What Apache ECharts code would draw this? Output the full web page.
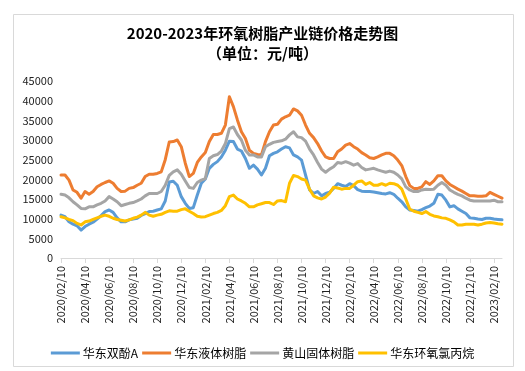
<!DOCTYPE html>
<html>
<head>
<meta charset="utf-8">
<script src="https://cdn.jsdelivr.net/npm/echarts@6/dist/echarts.min.js"></script>
<style>
html,body{margin:0;padding:0;background:#fff;}
#chart{width:525px;height:371px;}
</style>
</head>
<body>
<div id="chart"></div>
<script>
// Category dates: three points per month (10th, 20th, month end), starting 2020/02/10
const categories = (function () {
  const out = [];
  for (let y = 2020; y <= 2023; y++) {
    for (let m = 1; m <= 12; m++) {
      if (y === 2020 && m < 2) continue;
      const mm = (m < 10 ? '0' : '') + m;
      const endDay = m === 2 ? '28' : '30';
      out.push(y + '/' + mm + '/10', y + '/' + mm + '/20', y + '/' + mm + '/' + endDay);
      if (y === 2023 && m === 2) return out;
    }
  }
  return out;
})();

const seriesNames = ['华东双酚A', '华东液体树脂', '黄山固体树脂', '华东环氧氯丙烷'];
const yTicks = [0, 5000, 10000, 15000, 20000, 25000, 30000, 35000, 40000, 45000];

const bisphenolA = [
  10900, 10500, 9200, 8600, 8200, 7100, 8000, 8600, 9100, 9900,
  10800, 11800, 12200, 11600, 10200, 9200, 9200, 9700, 9900, 10100,
  10800, 11300, 11800, 11900, 12200, 12500, 14500, 19300, 19500, 18500,
  15600, 13900, 12600, 12800, 16000, 19000, 20100, 22800, 23800, 24500,
  25700, 27400, 29700, 29600, 27700, 27200, 25300, 22800, 23600, 22600,
  21100, 22800, 26000, 26600, 27000, 27700, 28300, 28000, 26200, 25700,
  24900, 21100, 17300, 16400, 16900, 15800, 16400, 16700, 17700, 18900,
  18500, 18200, 18900, 18400, 17400, 17000, 16900, 16900, 16800, 16600,
  16400, 16300, 16600, 16200, 15200, 14300, 13000, 12200, 12100, 11900,
  12300, 12800, 13200, 13900, 16200, 16000, 14700, 13000, 13300, 12500,
  11900, 11300, 10200, 10100, 9900, 9800, 10100, 10100, 9900, 9800, 9700
];

const liquidResin = [
  21100, 21100, 19800, 17300, 16700, 15200, 16900, 16200, 16900, 18100,
  18700, 19200, 19600, 19000, 17700, 16900, 17000, 17700, 17900, 18500,
  19000, 20700, 21300, 21300, 21500, 21900, 25000, 29500, 29600, 30000,
  28300, 24100, 20700, 21500, 24300, 25700, 26800, 29600, 31400, 31400,
  31700, 33800, 41000, 38500, 35100, 32100, 30400, 27400, 26600, 26300,
  26200, 29600, 32100, 33800, 34000, 35300, 35900, 36300, 37900, 37400,
  36300, 33800, 31700, 30600, 29100, 27200, 25700, 25300, 25300, 27000,
  27700, 28700, 29100, 28300, 27700, 26800, 26200, 25500, 25300, 25700,
  26200, 26600, 26600, 26000, 24900, 23500, 20700, 18400, 17700, 17700,
  18100, 19400, 18700, 19600, 20900, 20900, 19600, 18700, 18100, 17500,
  17000, 16400, 15800, 15800, 15700, 15700, 15800, 16700, 16200, 15700, 15200
];

const solidResin = [
  16200, 16000, 15300, 14300, 13500, 12600, 12500, 13000, 13000, 13500,
  13900, 14500, 15600, 15000, 14300, 13300, 13600, 13900, 14100, 14500,
  15000, 15800, 16400, 16400, 16400, 16900, 18500, 21000, 21900, 22400,
  21300, 19600, 17900, 17700, 19200, 19800, 20200, 25300, 26000, 26300,
  27200, 29100, 32900, 33300, 31400, 30000, 27400, 26200, 26200, 25700,
  25700, 28300, 28900, 29400, 29600, 29800, 30200, 31300, 32100, 30800,
  30600, 29700, 27700, 26200, 24300, 22600, 21800, 22600, 23200, 24300,
  24100, 24500, 24100, 23600, 24000, 23000, 22400, 22600, 22800, 22400,
  22100, 21800, 22100, 21800, 21100, 20100, 18100, 17300, 16900, 16900,
  17300, 17500, 17400, 17500, 18500, 19200, 18500, 17300, 16700, 16200,
  15800, 15200, 14700, 14500, 14500, 14500, 14500, 14500, 14700, 14300, 14300
];

const epichlorohydrin = [
  10500, 10200, 9800, 9500, 8800, 8400, 9200, 9400, 9800, 10200,
  10600, 10900, 10600, 10100, 9800, 9600, 9400, 9700, 10100, 10400,
  10900, 11600, 10900, 10600, 10900, 11100, 11600, 12000, 11900, 11900,
  12300, 12500, 11900, 11300, 10600, 10400, 10500, 10900, 11300, 11600,
  12100, 13300, 15600, 16000, 15000, 14500, 13900, 13000, 13000, 13500,
  13800, 14100, 14100, 13600, 14500, 14600, 14300, 19000, 21000, 20700,
  20100, 19800, 17500, 15800, 15300, 15000, 15500, 16500, 18000, 17800,
  17500, 17700, 17700, 18500, 19400, 19600, 18700, 19200, 18500, 18500,
  18900, 18500, 19000, 18900, 18500, 17500, 15000, 12400, 11900, 11600,
  11300, 11800, 11100, 10700, 10500, 10200, 10100, 9700, 9200, 8400,
  8400, 8600, 8600, 8600, 8400, 8600, 8900, 9000, 8900, 8700, 8600
];

const colors = ['#5B9BD5', '#ED7D31', '#A5A5A5', '#FFC000'];
const dataSets = [bisphenolA, liquidResin, solidResin, epichlorohydrin];
const FONT = '"Noto Sans CJK SC", "Noto Sans", sans-serif';

const chart = echarts.init(document.getElementById('chart'), null, { renderer: 'canvas' });
chart.setOption({
  backgroundColor: '#ffffff',
  animation: false,
  color: colors,
  textStyle: { fontFamily: FONT },
  graphic: [{
    type: 'rect',
    shape: { x: 13.5, y: 14.5, width: 500, height: 352 },
    style: { fill: 'none', stroke: '#d9d9d9', lineWidth: 1 },
    silent: true
  }],
  title: {
    text: '2020-2023年环氧树脂产业链价格走势图\n（单位：元/吨）',
    left: 'center',
    top: 23,
    padding: 0,
    textStyle: { fontSize: 15, fontWeight: 'bold', lineHeight: 20, color: '#000', fontFamily: FONT }
  },
  legend: {
    data: seriesNames.map(function (n) { return { name: n, icon: 'rect' }; }),
    left: 'center',
    top: 342,
    itemWidth: 29,
    itemHeight: 3,
    itemGap: 4,
    textStyle: { fontSize: 12, color: '#000', fontFamily: FONT, padding: [0, 0, 0, -2] }
  },
  grid: { left: 61, right: 23, top: 81, bottom: 113, containLabel: false },
  xAxis: {
    type: 'category',
    data: categories,
    boundaryGap: false,
    axisLine: { lineStyle: { color: '#d9d9d9', width: 1 } },
    axisTick: { show: true, length: 5, lineStyle: { color: '#d9d9d9' }, interval: function (i) { return i % 6 === 0; } },
    axisLabel: {
      rotate: 90,
      margin: 8,
      fontSize: 11,
      color: '#222',
      fontFamily: FONT,
      interval: function (i) { return i % 6 === 0; }
    },
    splitLine: { show: false }
  },
  yAxis: {
    type: 'value',
    min: yTicks[0],
    max: yTicks[yTicks.length - 1],
    interval: 5000,
    axisLine: { show: false },
    axisTick: { show: false },
    splitLine: { show: false },
    axisLabel: { fontSize: 11, color: '#222', margin: 8, fontFamily: FONT, formatter: function (v) { return String(v); } }
  },
  series: seriesNames.map(function (name, k) {
    return {
      name: name,
      type: 'line',
      data: dataSets[k],
      symbol: 'none',
      smooth: false,
      lineStyle: { width: 3, color: colors[k], cap: 'round', join: 'round' },
      itemStyle: { color: colors[k] }
    };
  })
});
</script>
</body>
</html>
